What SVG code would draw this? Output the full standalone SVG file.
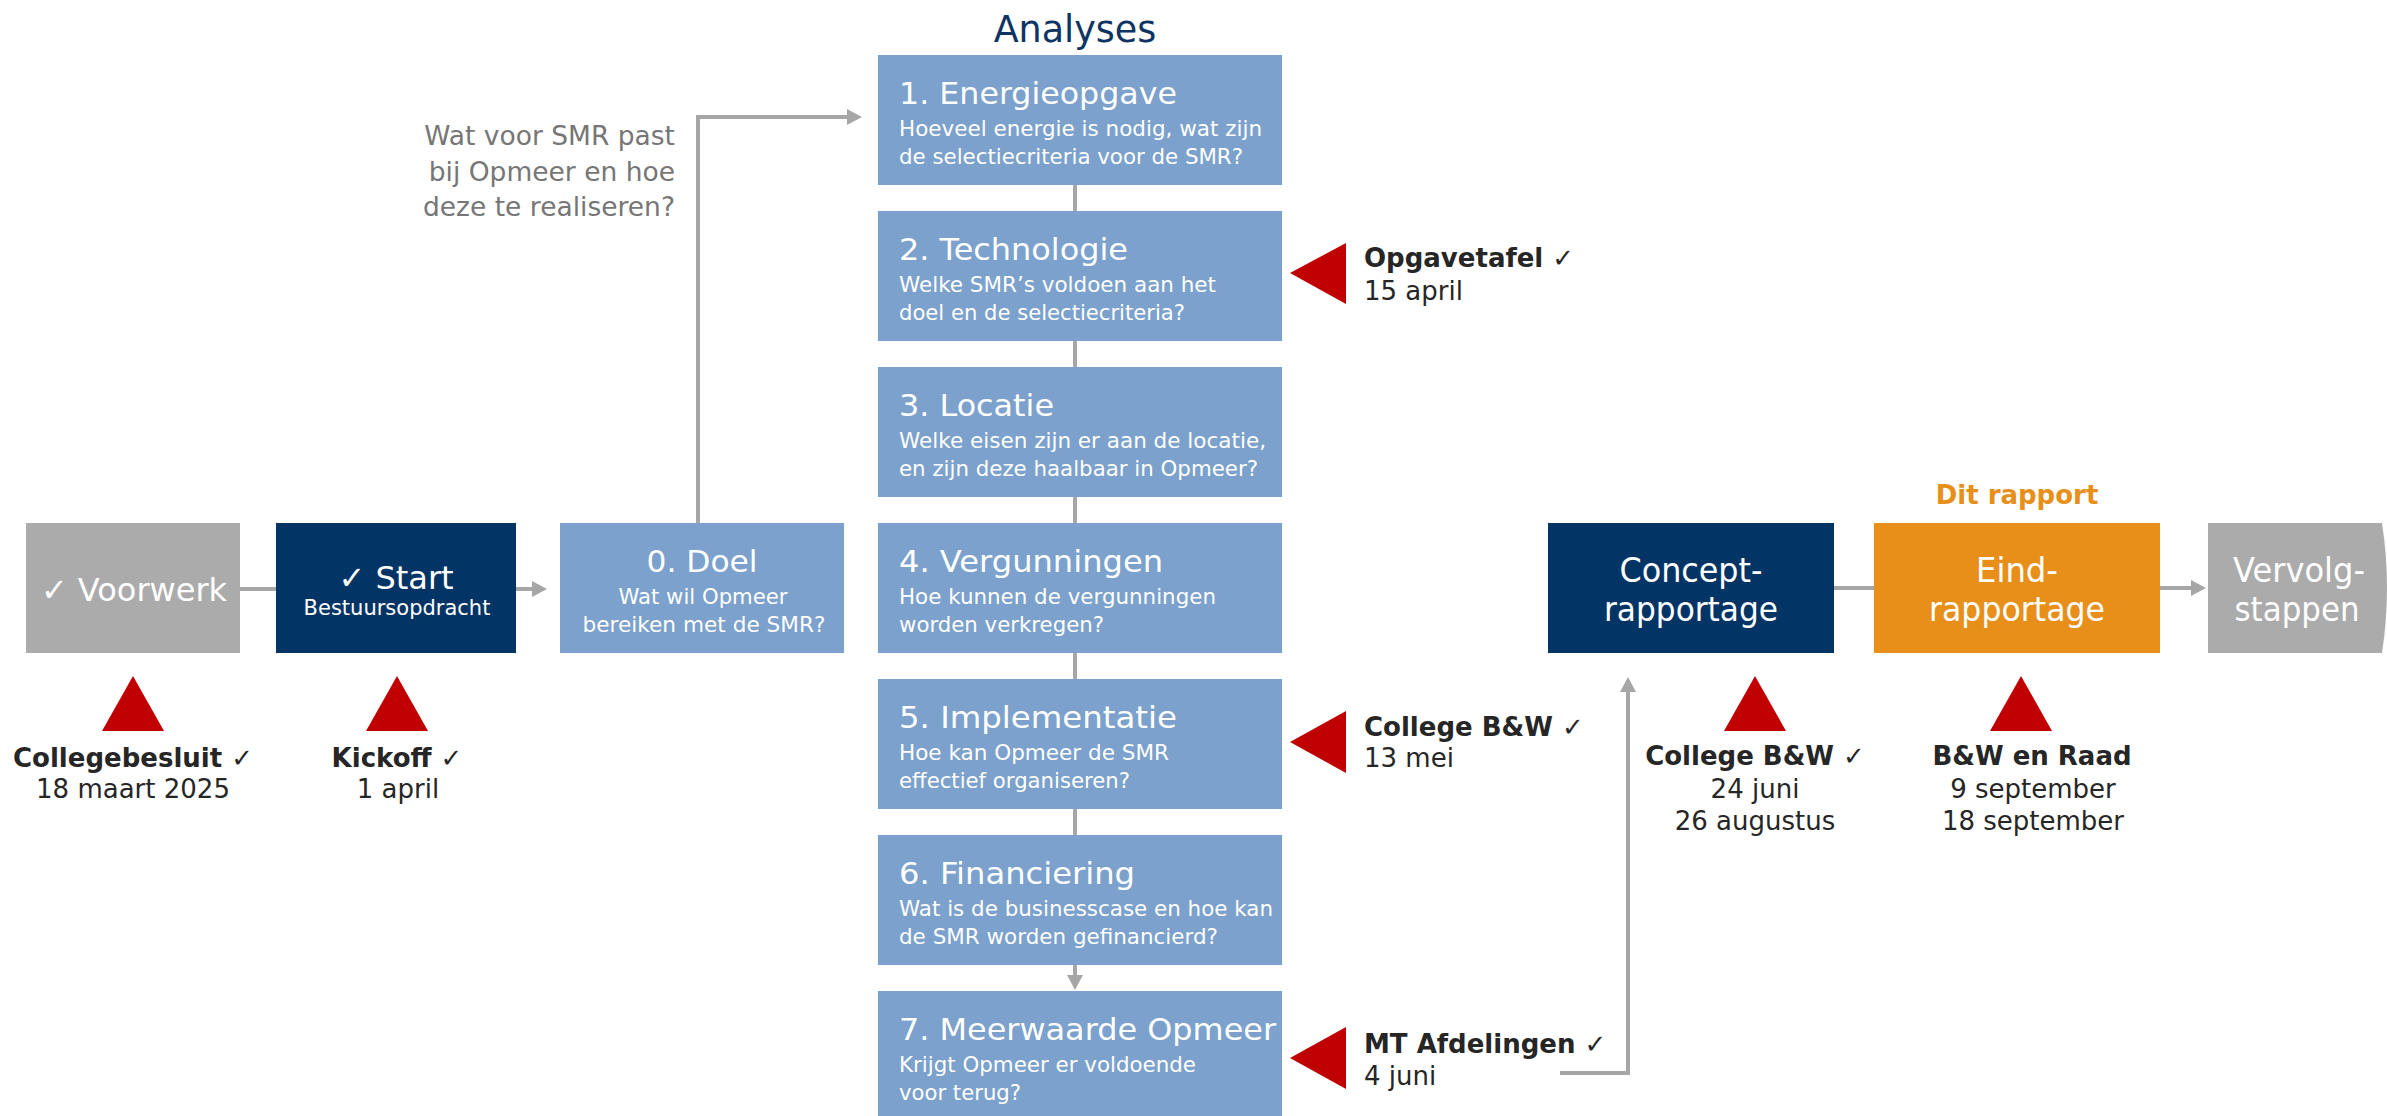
<svg xmlns="http://www.w3.org/2000/svg" width="2387" height="1116" viewBox="0 0 2387 1116">
  <style>
    text { font-family: "DejaVu Sans", Verdana, sans-serif; }
    .box-grey { fill: #ababab; }
    .box-navy { fill: #033466; }
    .box-blue { fill: #7ba1cc; }
    .box-orange { fill: #e88f1a; }
    .w { fill: #ffffff; }
    .title { font-size: 31px; fill: #ffffff; }
    .sub { font-size: 21.5px; fill: #ffffff; }
    .big { font-size: 33px; fill: #ffffff; text-anchor: middle; }
    .c { text-anchor: middle; }
    .ms-name { font-size: 26px; font-weight: bold; fill: #262626; }
    .ms-date { font-size: 26px; fill: #262626; }
    .marker-tri { fill: #c00000; }
    .conn { stroke: #a6a6a6; stroke-width: 4; fill: none; }
    .question { font-size: 26.5px; fill: #767676; text-anchor: end; }
  </style>
  <defs>
    <marker id="arrow" markerUnits="userSpaceOnUse" markerWidth="16" markerHeight="16" refX="5" refY="8" orient="auto">
      <path d="M0,0 L15,8 L0,16 z" fill="#a6a6a6"/>
    </marker>
  </defs>

  <rect width="2387" height="1116" fill="#ffffff"/>

  <!-- connectors -->
  <g id="connectors">
    <line class="conn" x1="240" y1="589" x2="276" y2="589"/>
    <line class="conn" x1="516" y1="589" x2="537" y2="589" marker-end="url(#arrow)"/>
    <path class="conn" d="M698,523 V117 H852" marker-end="url(#arrow)"/>
    <line class="conn" x1="1075" y1="184" x2="1075" y2="211"/>
    <line class="conn" x1="1075" y1="341" x2="1075" y2="367"/>
    <line class="conn" x1="1075" y1="497" x2="1075" y2="523"/>
    <line class="conn" x1="1075" y1="653" x2="1075" y2="679"/>
    <line class="conn" x1="1075" y1="809" x2="1075" y2="835"/>
    <line class="conn" x1="1075" y1="965" x2="1075" y2="980" marker-end="url(#arrow)"/>
    <path class="conn" d="M1560,1073 H1628 V687" marker-end="url(#arrow)"/>
    <line class="conn" x1="1834" y1="588" x2="1874" y2="588"/>
    <line class="conn" x1="2160" y1="588" x2="2196" y2="588" marker-end="url(#arrow)"/>
  </g>

  <!-- question above the analyses -->
  <g id="question">
    <text class="question" x="675" y="145">Wat voor SMR past</text>
    <text class="question" x="675" y="181">bij Opmeer en hoe</text>
    <text class="question" x="675" y="216">deze te realiseren?</text>
  </g>

  <!-- process steps -->
  <g id="voorwerk">
    <rect class="box-grey" x="26" y="523" width="214" height="130"/>
    <text class="c w" x="134" y="601" font-size="32">✓ Voorwerk</text>
  </g>

  <g id="start">
    <rect class="box-navy" x="276" y="523" width="240" height="130"/>
    <text class="c w" x="396" y="589" font-size="32">✓ Start</text>
    <text class="c w" x="397" y="615" font-size="21">Bestuursopdracht</text>
  </g>

  <g id="doel">
    <rect class="box-blue" x="560" y="523" width="284" height="130"/>
    <text class="title c" x="702" y="572" textLength="111" lengthAdjust="spacingAndGlyphs">0. Doel</text>
    <text class="sub c" x="703" y="604" textLength="169" lengthAdjust="spacingAndGlyphs">Wat wil Opmeer</text>
    <text class="sub c" x="704" y="632" textLength="243" lengthAdjust="spacingAndGlyphs">bereiken met de SMR?</text>
  </g>

  <text id="analyses-title" x="1075" y="42" font-size="36.5" fill="#0d3463" text-anchor="middle">Analyses</text>

  <g id="step1">
    <rect class="box-blue" x="878" y="55" width="404" height="130"/>
    <text class="title" x="899" y="104" textLength="278" lengthAdjust="spacingAndGlyphs">1. Energieopgave</text>
    <text class="sub" x="899" y="136" textLength="363" lengthAdjust="spacingAndGlyphs">Hoeveel energie is nodig, wat zijn</text>
    <text class="sub" x="899" y="164" textLength="344" lengthAdjust="spacingAndGlyphs">de selectiecriteria voor de SMR?</text>
  </g>

  <g id="step2">
    <rect class="box-blue" x="878" y="211" width="404" height="130"/>
    <text class="title" x="899" y="260" textLength="229" lengthAdjust="spacingAndGlyphs">2. Technologie</text>
    <text class="sub" x="899" y="292" textLength="317" lengthAdjust="spacingAndGlyphs">Welke SMR’s voldoen aan het</text>
    <text class="sub" x="899" y="320" textLength="286" lengthAdjust="spacingAndGlyphs">doel en de selectiecriteria?</text>
  </g>

  <g id="step3">
    <rect class="box-blue" x="878" y="367" width="404" height="130"/>
    <text class="title" x="899" y="416" textLength="155" lengthAdjust="spacingAndGlyphs">3. Locatie</text>
    <text class="sub" x="899" y="448" textLength="367" lengthAdjust="spacingAndGlyphs">Welke eisen zijn er aan de locatie,</text>
    <text class="sub" x="899" y="476" textLength="359" lengthAdjust="spacingAndGlyphs">en zijn deze haalbaar in Opmeer?</text>
  </g>

  <g id="step4">
    <rect class="box-blue" x="878" y="523" width="404" height="130"/>
    <text class="title" x="899" y="572" textLength="264" lengthAdjust="spacingAndGlyphs">4. Vergunningen</text>
    <text class="sub" x="899" y="604" textLength="317" lengthAdjust="spacingAndGlyphs">Hoe kunnen de vergunningen</text>
    <text class="sub" x="899" y="632" textLength="205" lengthAdjust="spacingAndGlyphs">worden verkregen?</text>
  </g>

  <g id="step5">
    <rect class="box-blue" x="878" y="679" width="404" height="130"/>
    <text class="title" x="899" y="728" textLength="278" lengthAdjust="spacingAndGlyphs">5. Implementatie</text>
    <text class="sub" x="899" y="760" textLength="270" lengthAdjust="spacingAndGlyphs">Hoe kan Opmeer de SMR</text>
    <text class="sub" x="899" y="788" textLength="231" lengthAdjust="spacingAndGlyphs">effectief organiseren?</text>
  </g>

  <g id="step6">
    <rect class="box-blue" x="878" y="835" width="404" height="130"/>
    <text class="title" x="899" y="884" textLength="236" lengthAdjust="spacingAndGlyphs">6. Financiering</text>
    <text class="sub" x="899" y="916" textLength="374" lengthAdjust="spacingAndGlyphs">Wat is de businesscase en hoe kan</text>
    <text class="sub" x="899" y="944" textLength="319" lengthAdjust="spacingAndGlyphs">de SMR worden gefinancierd?</text>
  </g>

  <g id="step7">
    <rect class="box-blue" x="878" y="991" width="404" height="130"/>
    <text class="title" x="899" y="1040" textLength="377" lengthAdjust="spacingAndGlyphs">7. Meerwaarde Opmeer</text>
    <text class="sub" x="899" y="1072" textLength="297" lengthAdjust="spacingAndGlyphs">Krijgt Opmeer er voldoende</text>
    <text class="sub" x="899" y="1100" textLength="122" lengthAdjust="spacingAndGlyphs">voor terug?</text>
  </g>

  <g id="concept">
    <rect class="box-navy" x="1548" y="523" width="286" height="130"/>
    <text class="big" x="1691" y="582" textLength="143" lengthAdjust="spacingAndGlyphs">Concept-</text>
    <text class="big" x="1691" y="621" textLength="174" lengthAdjust="spacingAndGlyphs">rapportage</text>
  </g>

  <g id="eind">
    <text x="2017" y="504" font-size="26" font-weight="bold" fill="#e88f1a" text-anchor="middle">Dit rapport</text>
    <rect class="box-orange" x="1874" y="523" width="286" height="130"/>
    <text class="big" x="2017" y="582" textLength="82" lengthAdjust="spacingAndGlyphs">Eind-</text>
    <text class="big" x="2017" y="621" textLength="176" lengthAdjust="spacingAndGlyphs">rapportage</text>
  </g>

  <g id="vervolg">
    <path class="box-grey" d="M2208,523 H2382 Q2392,588 2382,653 H2208 Z"/>
    <text class="big" x="2299" y="582" textLength="132" lengthAdjust="spacingAndGlyphs">Vervolg-</text>
    <text class="big" x="2297" y="621" textLength="125" lengthAdjust="spacingAndGlyphs">stappen</text>
  </g>

  <!-- milestones -->
  <g id="ms-collegebesluit">
    <polygon class="marker-tri" points="133,676 102,731 164,731"/>
    <text class="ms-name c" x="133" y="767">Collegebesluit ✓</text>
    <text class="ms-date c" x="133" y="798">18 maart 2025</text>
  </g>

  <g id="ms-kickoff">
    <polygon class="marker-tri" points="397,676 366,731 428,731"/>
    <text class="ms-name c" x="397" y="767">Kickoff ✓</text>
    <text class="ms-date c" x="398" y="798">1 april</text>
  </g>

  <g id="ms-opgavetafel">
    <polygon class="marker-tri" points="1290,273 1346,243 1346,304"/>
    <text class="ms-name" x="1364" y="267">Opgavetafel ✓</text>
    <text class="ms-date" x="1364" y="300">15 april</text>
  </g>

  <g id="ms-college-mei">
    <polygon class="marker-tri" points="1290,742 1346,711 1346,773"/>
    <text class="ms-name" x="1364" y="736">College B&amp;W ✓</text>
    <text class="ms-date" x="1364" y="767">13 mei</text>
  </g>

  <g id="ms-mt">
    <polygon class="marker-tri" points="1290,1058 1346,1027 1346,1089"/>
    <text class="ms-name" x="1364" y="1053">MT Afdelingen ✓</text>
    <text class="ms-date" x="1364" y="1085">4 juni</text>
  </g>

  <g id="ms-college-juni">
    <polygon class="marker-tri" points="1755,676 1724,731 1786,731"/>
    <text class="ms-name c" x="1755" y="765">College B&amp;W ✓</text>
    <text class="ms-date c" x="1755" y="798">24 juni</text>
    <text class="ms-date c" x="1755" y="830">26 augustus</text>
  </g>

  <g id="ms-raad">
    <polygon class="marker-tri" points="2021,676 1990,731 2052,731"/>
    <text class="ms-name c" x="2032" y="765">B&amp;W en Raad</text>
    <text class="ms-date c" x="2033" y="798">9 september</text>
    <text class="ms-date c" x="2033" y="830">18 september</text>
  </g>
</svg>
